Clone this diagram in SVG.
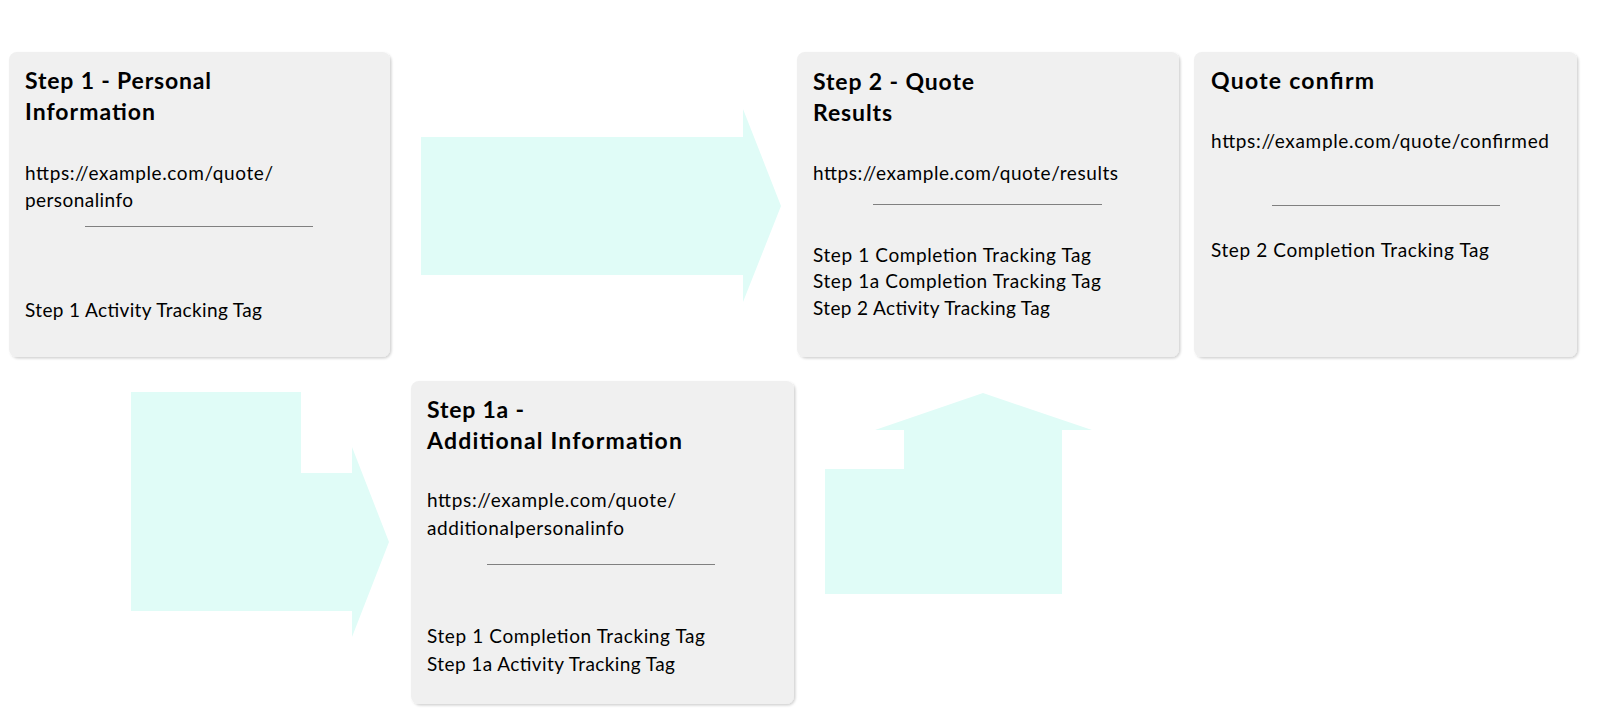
<svg xmlns="http://www.w3.org/2000/svg" width="1600" height="727" viewBox="0 0 1600 727">
  <defs>
    <filter id="shadow" x="-5%" y="-5%" width="110%" height="110%">
      <feDropShadow dx="1.5" dy="1.5" stdDeviation="1.2" flood-color="#000" flood-opacity="0.18"/>
    </filter>
    <style>
      .card { fill: #f0f0f0; filter: url(#shadow); }
      .title { font-family: Lato, "Liberation Sans", sans-serif; font-weight: 700; font-size: 23px; fill: #000; }
      .body { font-family: Lato, "Liberation Sans", sans-serif; font-weight: 400; font-size: 19px; fill: #000; }
      .sep { stroke: #808080; stroke-width: 1; }
      .arrow { fill: #e0fcf7; }
    </style>
  </defs>
  <rect width="1600" height="727" fill="#ffffff"/>

  <g id="connectors">
    <polygon class="arrow" points="421,137 743,137 743,109 781,206 743,302 743,275 421,275"/>
    <polygon class="arrow" points="131,392 301,392 301,473 352,473 352,447 389,542 352,637 352,611 131,611"/>
    <polygon class="arrow" points="983,393 1092,430 1062,430 1062,594 825,594 825,469 904,469 904,430 875,430"/>
  </g>

  <g id="step1">
    <rect class="card" x="9" y="52" width="381" height="305" rx="8"/>
    <text class="title" x="25" y="89" textLength="186" lengthAdjust="spacing">Step 1 - Personal</text>
    <text class="title" x="25" y="120" textLength="130" lengthAdjust="spacing">Information</text>
    <text class="body" x="25" y="180" textLength="248" lengthAdjust="spacing">https://example.com/quote/</text>
    <text class="body" x="25" y="207" textLength="108" lengthAdjust="spacing">personalinfo</text>
    <line class="sep" x1="85" y1="226.5" x2="313" y2="226.5"/>
    <text class="body" x="25" y="317" textLength="237" lengthAdjust="spacing">Step 1 Activity Tracking Tag</text>
  </g>

  <g id="step2">
    <rect class="card" x="797" y="52" width="382" height="305" rx="8"/>
    <text class="title" x="813" y="90" textLength="161" lengthAdjust="spacing">Step 2 - Quote</text>
    <text class="title" x="813" y="121" textLength="79" lengthAdjust="spacing">Results</text>
    <text class="body" x="813" y="180" textLength="305" lengthAdjust="spacing">https://example.com/quote/results</text>
    <line class="sep" x1="873" y1="204.5" x2="1102" y2="204.5"/>
    <text class="body" x="813" y="262" textLength="278" lengthAdjust="spacing">Step 1 Completion Tracking Tag</text>
    <text class="body" x="813" y="288" textLength="288" lengthAdjust="spacing">Step 1a Completion Tracking Tag</text>
    <text class="body" x="813" y="315" textLength="237" lengthAdjust="spacing">Step 2 Activity Tracking Tag</text>
  </g>

  <g id="quoteconfirm">
    <rect class="card" x="1194" y="52" width="383" height="305" rx="8"/>
    <text class="title" x="1211" y="89" textLength="163" lengthAdjust="spacing">Quote confirm</text>
    <text class="body" x="1211" y="148" textLength="338" lengthAdjust="spacing">https://example.com/quote/confirmed</text>
    <line class="sep" x1="1272" y1="205.5" x2="1500" y2="205.5"/>
    <text class="body" x="1211" y="257" textLength="278" lengthAdjust="spacing">Step 2 Completion Tracking Tag</text>
  </g>

  <g id="step1a">
    <rect class="card" x="411" y="381" width="383" height="323" rx="8"/>
    <text class="title" x="427" y="418" textLength="97" lengthAdjust="spacing">Step 1a -</text>
    <text class="title" x="427" y="449" textLength="255" lengthAdjust="spacing">Additional Information</text>
    <text class="body" x="427" y="507" textLength="249" lengthAdjust="spacing">https://example.com/quote/</text>
    <text class="body" x="427" y="535" textLength="197" lengthAdjust="spacing">additionalpersonalinfo</text>
    <line class="sep" x1="487" y1="564.5" x2="715" y2="564.5"/>
    <text class="body" x="427" y="643" textLength="278" lengthAdjust="spacing">Step 1 Completion Tracking Tag</text>
    <text class="body" x="427" y="671" textLength="248" lengthAdjust="spacing">Step 1a Activity Tracking Tag</text>
  </g>
</svg>
